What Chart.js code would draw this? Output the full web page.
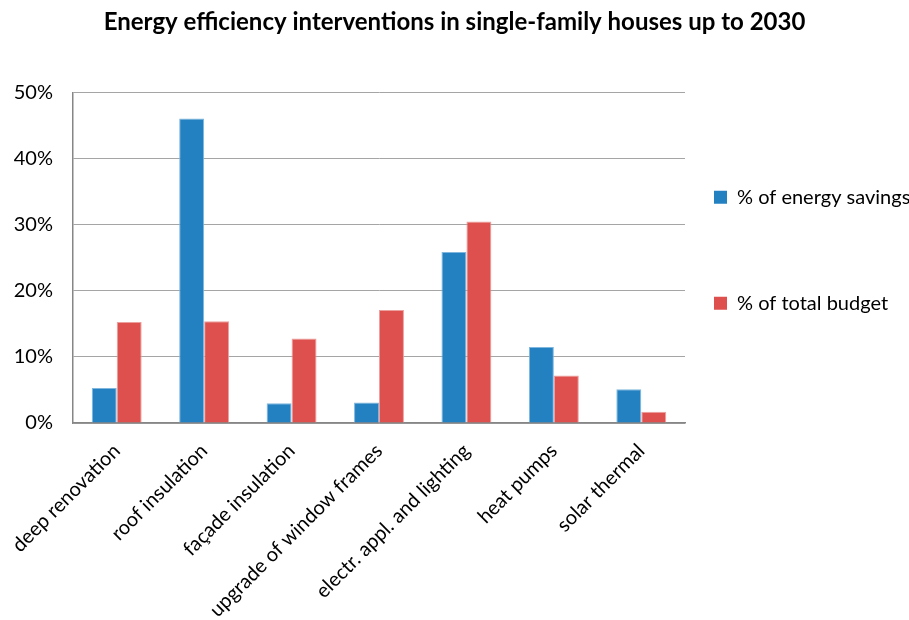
<!DOCTYPE html>
<html>
<head>
<meta charset="utf-8">
<script src="https://cdn.jsdelivr.net/npm/chart.js@4/dist/chart.umd.min.js"></script>
<style>
  html, body { margin: 0; padding: 0; background: #fff; }
  #contenedor { width: 909px; height: 620px; }
</style>
</head>
<body>
<div id="contenedor"><canvas id="graficaEnergia"></canvas></div>
<script>
const categorias = ['deep renovation', 'roof insulation', 'façade insulation', 'upgrade of window frames', 'electr. appl. and lighting', 'heat pumps', 'solar thermal'];
const ahorroEnergia = [5.3, 46.1, 3.0, 3.1, 25.9, 11.5, 5.1];
const presupuestoTotal = [15.3, 15.4, 12.8, 17.1, 30.5, 7.2, 1.7];
const marcasY = [0, 10, 20, 30, 40, 50];
const nombresSeries = ['% of energy savings', '% of total budget'];
const titulo = 'Energy efficiency interventions in single-family houses up to 2030';

Chart.defaults.font.family = 'Lato, Calibri, sans-serif';
Chart.defaults.color = '#000';

// la primera entrada como arreglo para poder separar las dos entradas de la leyenda
function etiquetasLeyenda(chart) {
    const items = Chart.defaults.plugins.legend.labels.generateLabels(chart);
    items.forEach(item => { item.lineWidth = 0; });
    items[0].text = [items[0].text];
    return items;
}

function inicializarGrafica() {
    const ctx = document.getElementById('graficaEnergia').getContext('2d');
    new Chart(ctx, {
        type: 'bar',
        data: {
            labels: categorias,
            datasets: [{
                label: nombresSeries[0],
                data: ahorroEnergia,
                backgroundColor: '#2381c1',
                borderColor: '#7fb6de',
                borderWidth: 1,
                barPercentage: 1,
                categoryPercentage: 0.571
            }, {
                label: nombresSeries[1],
                data: presupuestoTotal,
                backgroundColor: '#dd504d',
                borderColor: '#eca09e',
                borderWidth: 1,
                barPercentage: 1,
                categoryPercentage: 0.571
            }]
        },
        options: {
            responsive: true,
            maintainAspectRatio: false,
            animation: false,
            layout: { padding: 0 },
            plugins: {
                title: {
                    display: true,
                    text: titulo,
                    color: '#000',
                    font: { size: 24, weight: 'bold' },
                    padding: { top: 8, bottom: 56 }
                },
                legend: {
                    position: 'right',
                    align: 'start',
                    fullSize: false,
                    maxWidth: 224,
                    title: { display: true, text: ' ', padding: { top: 51, bottom: 0 } },
                    labels: {
                        boxWidth: 13,
                        boxHeight: 13,
                        padding: 29,
                        color: '#000',
                        font: { size: 20, lineHeight: 77 / 20 },
                        generateLabels: etiquetasLeyenda
                    }
                }
            },
            scales: {
                x: {
                    grid: { display: false, drawTicks: false },
                    border: { color: '#868686', width: 1.5 },
                    ticks: { font: { size: 20 }, color: '#000', minRotation: 45, maxRotation: 45, padding: 16 },
                    afterFit: escala => {
                        escala.height = 197;
                        escala.paddingLeft = 0;
                        escala.paddingRight = 0;
                    }
                },
                y: {
                    min: 0,
                    max: 50,
                    afterBuildTicks: escala => { escala.ticks = marcasY.map(v => ({ value: v })); },
                    grid: { color: '#a5a5a5', lineWidth: 1, drawTicks: false },
                    border: { color: '#868686', width: 1.5 },
                    ticks: { font: { size: 20 }, color: '#000', padding: 20, callback: v => v + '%' },
                    afterFit: escala => { escala.width = 73; }
                }
            }
        }
    });
}

inicializarGrafica();
</script>
</body>
</html>
